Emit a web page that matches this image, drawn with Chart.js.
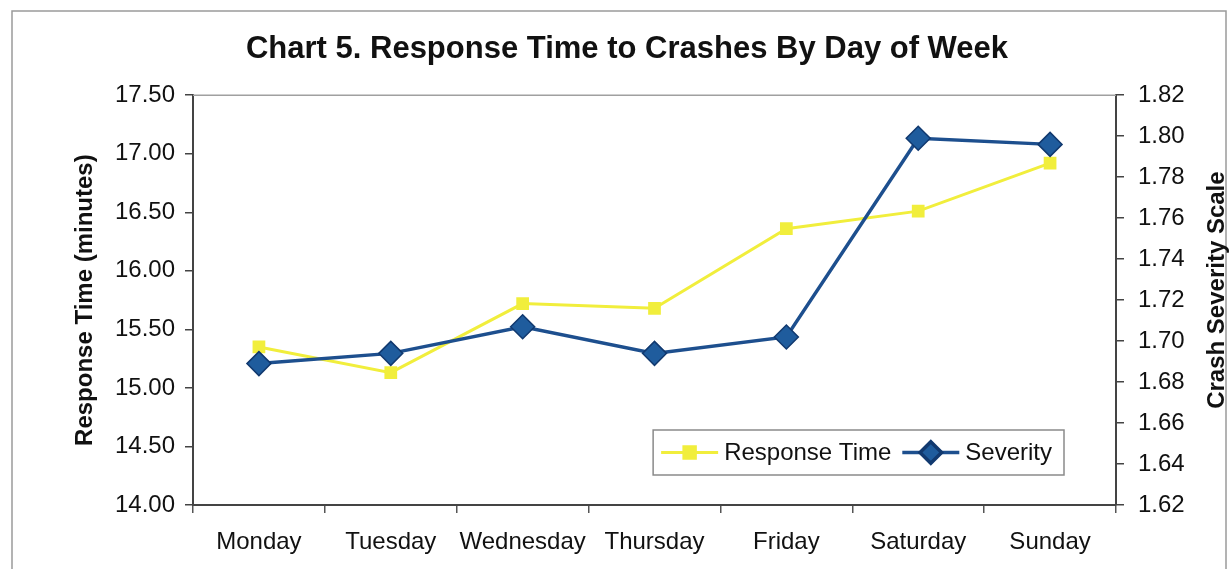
<!DOCTYPE html>
<html lang="en">
<head>
<meta charset="UTF-8">
<title>Chart 5. Response Time to Crashes By Day of Week</title>
<script src="https://cdn.jsdelivr.net/npm/chart.js"></script>
<style>
    html, body { margin: 0; padding: 0; background: #fff; }
    canvas { display: block; }
</style>
</head>
<body>
<canvas id="chart" width="1230" height="569"></canvas>
<script>
// data
const days = ['Monday', 'Tuesday', 'Wednesday', 'Thursday', 'Friday', 'Saturday', 'Sunday'];
const responseTime = [15.35, 15.13, 15.72, 15.68, 16.36, 16.51, 16.92];
const severity = [1.689, 1.694, 1.707, 1.694, 1.702, 1.799, 1.796];

// axis ranges
const leftRange = [14.0, 17.5];
const leftStep = 0.5;
const rightRange = [1.62, 1.82];
const rightStep = 0.02;

const FONT = "'Liberation Sans', Arial, sans-serif";
const INK = '#111';

// grey frame round the whole chart + top edge of plot area
const framePlugin = {
    id: 'frame',
    beforeDraw(chart) {
        const ctx = chart.ctx;
        ctx.save();
        ctx.strokeStyle = '#9a9a9a';
        ctx.lineWidth = 1.5;
        ctx.strokeRect(12, 11, 1214, 600);
        ctx.restore();
    },
    beforeDatasetsDraw(chart) {
        const {ctx, chartArea: a} = chart;
        ctx.save();
        ctx.strokeStyle = '#a0a0a0';
        ctx.lineWidth = 1.5;
        ctx.beginPath();
        ctx.moveTo(a.left, a.top);
        ctx.lineTo(a.right, a.top);
        ctx.stroke();
        ctx.restore();
    }
};

// right axis title reads bottom-to-top in the original
const rightTitlePlugin = {
    id: 'rightTitle',
    afterDraw(chart) {
        const {ctx, chartArea: a} = chart;
        ctx.save();
        ctx.translate(1217, (a.top + a.bottom) / 2 - 10);
        ctx.rotate(-Math.PI / 2);
        ctx.font = 'bold 24px ' + FONT;
        ctx.fillStyle = INK;
        ctx.textAlign = 'center';
        ctx.textBaseline = 'middle';
        ctx.fillText('Crash Severity Scale', 0, 0);
        ctx.restore();
    }
};

// boxed legend sitting inside the plot, bottom right
const insideLegend = {
    id: 'insideLegend',
    afterDatasetsDraw(chart) {
        const {ctx, chartArea: a} = chart;
        const sets = chart.data.datasets;
        const lineLen = 57, gapA = 6, gapB = 11, padL = 8, padR = 12, h = 45;
        ctx.save();
        ctx.font = '24px ' + FONT;
        let w = padL + padR;
        sets.forEach((ds, i) => {
            w += lineLen + gapA + ctx.measureText(ds.label).width;
            if (i < sets.length - 1) w += gapB;
        });
        const x0 = a.right - 52 - w;
        const y0 = a.bottom - 30 - h;
        ctx.fillStyle = '#fff';
        ctx.fillRect(x0, y0, w, h);
        ctx.strokeStyle = '#8a8a8a';
        ctx.lineWidth = 1.5;
        ctx.strokeRect(x0, y0, w, h);

        let x = x0 + padL;
        const cy = y0 + h / 2;
        sets.forEach((ds) => {
            ctx.strokeStyle = ds.borderColor;
            ctx.lineWidth = ds.borderWidth;
            ctx.beginPath();
            ctx.moveTo(x, cy);
            ctx.lineTo(x + lineLen, cy);
            ctx.stroke();
            ctx.fillStyle = ds.pointBackgroundColor;
            ctx.strokeStyle = ds.pointBorderColor;
            Chart.helpers.drawPoint(ctx, {
                pointStyle: ds.pointStyle,
                radius: ds.pointRadius * 0.9,
                rotation: 0,
                borderWidth: 1
            }, x + lineLen / 2, cy);
            x += lineLen + gapA;
            ctx.fillStyle = INK;
            ctx.textAlign = 'left';
            ctx.textBaseline = 'middle';
            ctx.fillText(ds.label, x, cy + 1);
            x += ctx.measureText(ds.label).width + gapB;
        });
        ctx.restore();
    }
};

new Chart(document.getElementById('chart'), {
    type: 'line',
    data: {
        labels: days,
        datasets: [
            {
                label: 'Response Time',
                data: responseTime,
                yAxisID: 'y',
                order: 1,
                borderColor: '#f1ee3c',
                borderWidth: 3,
                pointStyle: 'rect',
                pointRadius: 9,
                pointBackgroundColor: '#f1ee3c',
                pointBorderColor: '#f1ee3c',
                pointBorderWidth: 0,
                tension: 0
            },
            {
                label: 'Severity',
                data: severity,
                yAxisID: 'y1',
                order: 0,
                borderColor: '#1d4f8e',
                borderWidth: 3.5,
                pointStyle: 'rectRot',
                pointRadius: 12,
                pointBackgroundColor: '#1f5c9d',
                pointBorderColor: '#11396f',
                pointBorderWidth: 1.5,
                tension: 0
            }
        ]
    },
    options: {
        responsive: false,
        animation: false,
        layout: { padding: { left: 24, right: 0, top: 0, bottom: 0 } },
        plugins: {
            legend: { display: false },
            tooltip: { enabled: false },
            title: {
                display: true,
                text: 'Chart 5. Response Time to Crashes By Day of Week',
                color: INK,
                font: { family: FONT, size: 31, weight: 'bold' },
                padding: { top: 31, bottom: 27 }
            }
        },
        scales: {
            x: {
                type: 'category',
                offset: true,
                afterFit(scale) { scale.height = 64; },
                grid: { offset: true, drawOnChartArea: false, tickLength: 8, color: '#555', lineWidth: 1.5 },
                border: { color: '#444', width: 2 },
                ticks: { color: INK, font: { family: FONT, size: 24 }, padding: 15, maxRotation: 0, autoSkip: false }
            },
            y: {
                position: 'left',
                min: leftRange[0],
                max: leftRange[1],
                afterFit(scale) { scale.width = 169; },
                grid: { drawOnChartArea: false, tickLength: 8, color: '#444', lineWidth: 1.5 },
                border: { color: '#444', width: 2 },
                ticks: {
                    stepSize: leftStep,
                    color: INK,
                    padding: 10,
                    font: { family: FONT, size: 24 },
                    callback: (v) => Number(v).toFixed(2)
                },
                title: {
                    display: true,
                    text: 'Response Time (minutes)',
                    color: INK,
                    font: { family: FONT, size: 24, weight: 'bold' },
                    padding: { top: 47, bottom: 0 }
                }
            },
            y1: {
                position: 'right',
                min: rightRange[0],
                max: rightRange[1],
                afterFit(scale) { scale.width = 114; },
                grid: { drawOnChartArea: false, tickLength: 8, color: '#444', lineWidth: 1.5 },
                border: { color: '#444', width: 2 },
                ticks: {
                    stepSize: rightStep,
                    color: INK,
                    padding: 14,
                    font: { family: FONT, size: 24 },
                    callback: (v) => Number(v).toFixed(2)
                }
            }
        }
    },
    plugins: [framePlugin, rightTitlePlugin, insideLegend]
});
</script>
</body>
</html>
